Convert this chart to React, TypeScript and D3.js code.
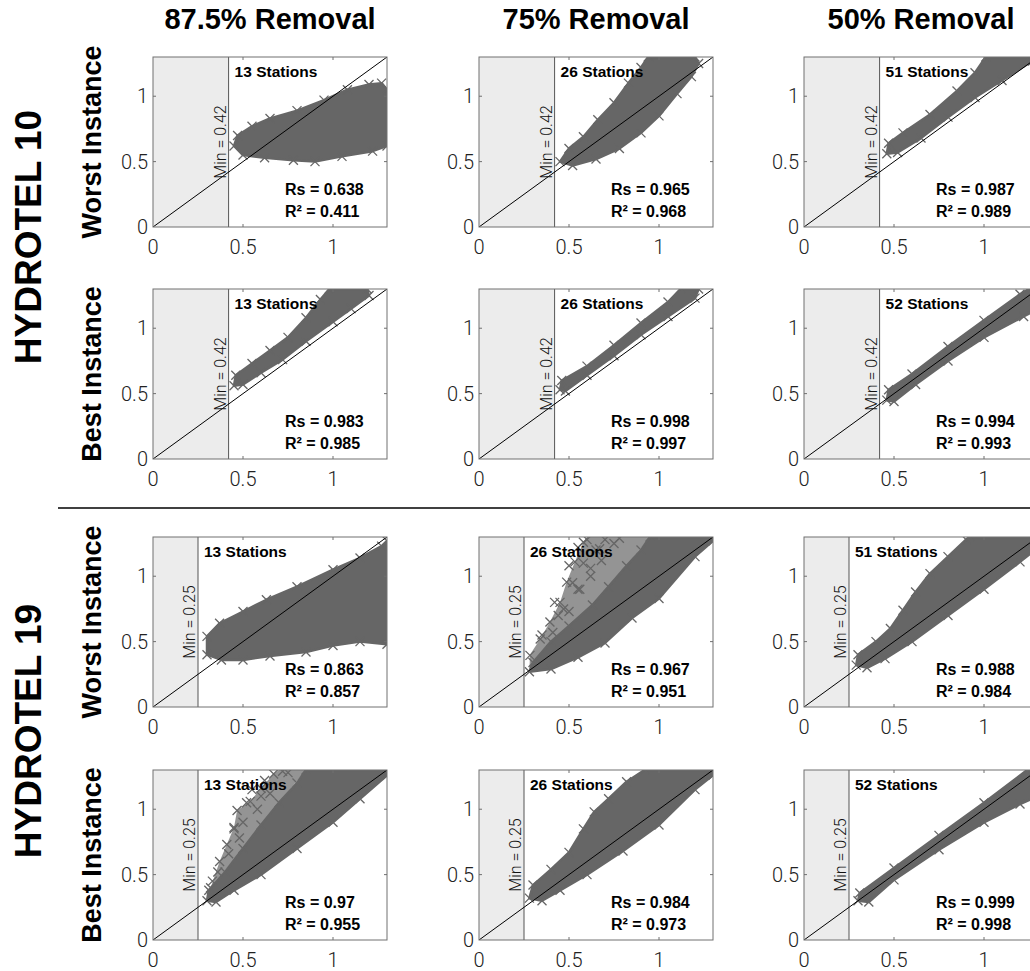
import React from 'react';
import * as d3 from 'd3';

const columns = ['87.5% Removal', '75% Removal', '50% Removal'];
const models = ['HYDROTEL 10', 'HYDROTEL 19'];
const instances = ['Worst Instance', 'Best Instance'];
const minThreshold = [0.42, 0.25];
const stations = [[13, 26, 51], [13, 26, 52], [13, 26, 51], [13, 26, 52]];
const rsValues = [['0.638', '0.965', '0.987'], ['0.983', '0.998', '0.994'], ['0.863', '0.967', '0.988'], ['0.97', '0.984', '0.999']];
const r2Values = [['0.411', '0.968', '0.989'], ['0.985', '0.997', '0.993'], ['0.857', '0.951', '0.984'], ['0.955', '0.973', '0.998']];
const xTicks = [0, 0.5, 1];
const yTicks = [0, 0.5, 1];

const clouds: number[][][][] = [
  [
    [[0.45, 0.62], [0.47, 0.7], [0.55, 0.77], [0.65, 0.83], [0.8, 0.89], [0.95, 0.97], [1.08, 1.05], [1.2, 1.09], [1.27, 1.1], [1.3, 1.05], [1.3, 0.62], [1.22, 0.58], [1.05, 0.54], [0.9, 0.5], [0.78, 0.51], [0.62, 0.53], [0.5, 0.55]],
    [[0.45, 0.5], [0.5, 0.6], [0.58, 0.69], [0.66, 0.82], [0.75, 0.95], [0.83, 1.1], [0.9, 1.22], [0.94, 1.3], [1.2, 1.3], [1.22, 1.25], [1.18, 1.15], [1.1, 1.02], [1.0, 0.85], [0.9, 0.72], [0.78, 0.6], [0.65, 0.52], [0.52, 0.47]],
    [[0.46, 0.56], [0.47, 0.64], [0.55, 0.72], [0.7, 0.86], [0.85, 1.04], [0.95, 1.18], [1.01, 1.3], [1.25, 1.3], [1.27, 1.27], [1.1, 1.12], [0.95, 0.99], [0.8, 0.84], [0.65, 0.68], [0.52, 0.57]],
  ],
  [
    [[0.45, 0.56], [0.46, 0.64], [0.55, 0.73], [0.65, 0.83], [0.75, 0.93], [0.85, 1.08], [0.93, 1.22], [0.98, 1.3], [1.19, 1.3], [1.2, 1.25], [1.1, 1.15], [1.0, 1.05], [0.85, 0.9], [0.72, 0.76], [0.6, 0.66], [0.5, 0.57]],
    [[0.45, 0.53], [0.46, 0.6], [0.6, 0.71], [0.75, 0.87], [0.9, 1.04], [1.05, 1.2], [1.12, 1.3], [1.22, 1.3], [1.2, 1.23], [1.05, 1.09], [0.9, 0.95], [0.75, 0.79], [0.6, 0.64], [0.48, 0.52]],
    [[0.46, 0.45], [0.47, 0.53], [0.6, 0.65], [0.8, 0.86], [1.0, 1.06], [1.2, 1.26], [1.25, 1.3], [1.3, 1.3], [1.3, 1.15], [1.22, 1.09], [1.0, 0.93], [0.8, 0.75], [0.62, 0.57], [0.5, 0.44]],
  ],
  [
    [[0.3, 0.4], [0.3, 0.54], [0.37, 0.64], [0.5, 0.73], [0.63, 0.82], [0.8, 0.92], [1.0, 1.05], [1.15, 1.14], [1.27, 1.23], [1.3, 1.27], [1.3, 0.48], [1.15, 0.5], [1.0, 0.47], [0.85, 0.42], [0.65, 0.39], [0.5, 0.36], [0.38, 0.36]],
    [[0.28, 0.27], [0.3, 0.34], [0.4, 0.5], [0.5, 0.62], [0.63, 0.78], [0.72, 0.92], [0.82, 1.08], [0.9, 1.2], [0.95, 1.3], [1.3, 1.3], [1.3, 1.27], [1.2, 1.15], [1.0, 0.83], [0.85, 0.68], [0.7, 0.49], [0.55, 0.38], [0.4, 0.29]],
    [[0.29, 0.32], [0.3, 0.4], [0.4, 0.5], [0.48, 0.6], [0.55, 0.74], [0.62, 0.88], [0.7, 1.02], [0.8, 1.15], [0.9, 1.28], [0.92, 1.3], [1.3, 1.3], [1.3, 1.22], [1.2, 1.11], [1.0, 0.9], [0.8, 0.7], [0.6, 0.5], [0.45, 0.37], [0.35, 0.3]],
  ],
  [
    [[0.3, 0.3], [0.31, 0.38], [0.4, 0.52], [0.5, 0.7], [0.6, 0.88], [0.7, 1.05], [0.8, 1.2], [0.85, 1.3], [1.3, 1.3], [1.3, 1.26], [1.15, 1.08], [1.0, 0.9], [0.8, 0.7], [0.6, 0.5], [0.45, 0.38], [0.35, 0.29]],
    [[0.28, 0.32], [0.3, 0.42], [0.4, 0.54], [0.5, 0.67], [0.58, 0.85], [0.64, 0.98], [0.72, 1.08], [0.82, 1.21], [0.92, 1.3], [1.3, 1.3], [1.3, 1.26], [1.2, 1.15], [1.0, 0.88], [0.8, 0.68], [0.6, 0.5], [0.45, 0.38], [0.35, 0.3]],
    [[0.3, 0.3], [0.31, 0.36], [0.5, 0.55], [0.75, 0.8], [1.0, 1.05], [1.24, 1.3], [1.3, 1.3], [1.3, 1.1], [1.2, 1.04], [1.0, 0.9], [0.75, 0.69], [0.5, 0.46], [0.36, 0.29]],
  ],
];

// thinner envelope of sparser points above the dense cloud (empty where none)
const sparse: number[][][][] = [
  [[], [], []],
  [[], [], []],
  [[], [[0.28, 0.27], [0.283, 0.4], [0.34, 0.52], [0.394, 0.65], [0.45, 0.8], [0.487, 0.955], [0.533, 1.11], [0.58, 1.26], [0.6, 1.3], [0.95, 1.3], [0.82, 1.08], [0.63, 0.78], [0.4, 0.5], [0.3, 0.34]], []],
  [[[0.3, 0.3], [0.32, 0.4], [0.37, 0.6], [0.41, 0.73], [0.45, 0.86], [0.467, 0.99], [0.54, 1.06], [0.6, 1.16], [0.67, 1.27], [0.7, 1.3], [0.85, 1.3], [0.7, 1.05], [0.5, 0.7], [0.31, 0.38]], [], []],
];

// scattered points lying outside the dense clouds
const outliers: number[][][][] = [
  [[], [], []],
  [[], [], []],
  [[], [[0.283, 0.395], [0.34, 0.52], [0.394, 0.65], [0.45, 0.8], [0.487, 0.955], [0.533, 1.11], [0.58, 1.26], [0.41, 0.57], [0.5, 0.73], [0.56, 0.9], [0.62, 1.06], [0.67, 1.21], [0.78, 1.29], [0.35, 0.55], [0.42, 0.8], [0.5, 1.08], [0.55, 1.22], [0.6, 1.28], [0.47, 0.75], [0.52, 0.95], [0.58, 1.1], [0.65, 1.2], [0.7, 1.28], [0.44, 0.7], [0.55, 0.9], [0.62, 1.0], [0.75, 1.25], [0.68, 1.12]], []],
  [[[0.32, 0.4], [0.37, 0.6], [0.41, 0.73], [0.45, 0.86], [0.467, 0.99], [0.54, 1.06], [0.6, 1.16], [0.67, 1.27], [0.72, 1.29], [0.33, 0.45], [0.45, 0.85], [0.52, 1.05], [0.55, 1.15], [0.62, 1.22], [0.42, 0.66], [0.5, 0.9], [0.58, 1.0], [0.65, 1.12], [0.36, 0.52], [0.48, 0.78], [0.75, 1.28], [0.6, 1.1]], [], []],
];

const colLeft = [153, 479, 804];
const rowTop = [57, 289, 537, 770];
const W = 234;
const H = 170;
const pointColor = '#666666';
const lightFont = 'Roboto, "Liberation Sans", sans-serif';
const boldFont = '"Liberation Sans", Arial, sans-serif';
const xMark = 'M-4.5,-4.5L4.5,4.5M-4.5,4.5L4.5,-4.5';

const Panel = ({ row, col }: { row: number; col: number }) => {
  const left = colLeft[col];
  const top = rowTop[row];
  const x = d3.scaleLinear().domain([0, 1.3]).range([0, W]);
  const y = d3.scaleLinear().domain([0, 1.3]).range([H, 0]);
  const minV = minThreshold[Math.floor(row / 2)];
  const line = d3.line<number[]>().x(d => x(d[0])).y(d => y(d[1])).curve(d3.curveLinearClosed);
  const poly = clouds[row][col];
  const env = sparse[row][col];
  const pts = poly.concat(outliers[row][col]);
  const clipId = `clip-${row}-${col}`;

  return (
    <g transform={`translate(${left},${top})`}>
      <defs>
        <clipPath id={clipId}>
          <rect x={0} y={0} width={W} height={H} />
        </clipPath>
      </defs>
      <rect x={0} y={0} width={W} height={H} fill="#fff" />
      <rect x={0} y={0} width={x(minV)} height={H} fill="#ececec" />
      <line x1={x(minV)} x2={x(minV)} y1={0} y2={H} stroke="#555" strokeWidth={1} />
      <g clipPath={`url(#${clipId})`}>
        {env.length > 0 && <path d={line(env) || ''} fill={pointColor} fillOpacity={0.7} stroke="none" />}
        <path d={line(poly) || ''} fill={pointColor} stroke={pointColor} strokeWidth={2.5} strokeLinejoin="round" />
        {pts.map((p, i) => (
          <path key={i} d={xMark} transform={`translate(${x(p[0])},${y(p[1])})`} stroke={pointColor} strokeWidth={1.3} fill="none" />
        ))}
        <line x1={x(0)} y1={y(0)} x2={x(1.3)} y2={y(1.3)} stroke="#000" strokeWidth={1} />
      </g>
      <rect x={0} y={0} width={W} height={H} fill="none" stroke="#707070" strokeWidth={1} />
      {xTicks.slice(1).map(t => (
        <g key={'xt' + t}>
          <line x1={x(t)} x2={x(t)} y1={H} y2={H - 3} stroke="#707070" />
          <line x1={x(t)} x2={x(t)} y1={0} y2={3} stroke="#707070" />
        </g>
      ))}
      {yTicks.slice(1).map(t => (
        <g key={'yt' + t}>
          <line x1={0} x2={3} y1={y(t)} y2={y(t)} stroke="#707070" />
          <line x1={W} x2={W - 3} y1={y(t)} y2={y(t)} stroke="#707070" />
        </g>
      ))}
      {xTicks.map(t => (
        <text key={'xl' + t} x={x(t)} y={H + 27} textAnchor="middle" fontFamily={lightFont} fontWeight={300} fontSize={20} fill="#222">
          {String(t)}
        </text>
      ))}
      {yTicks.map(t => (
        <text key={'yl' + t} x={-5} y={y(t) + 7} textAnchor="end" fontFamily={lightFont} fontWeight={300} fontSize={20} fill="#222">
          {String(t)}
        </text>
      ))}
      <text transform={`translate(${x(minV) - 3},${H / 2}) rotate(-90)`} textAnchor="middle" fontFamily={lightFont} fontWeight={300} fontSize={16} fill="#111">
        {`Min = ${minV}`}
      </text>
      <text x={x(minV) + 6} y={20} fontFamily={boldFont} fontWeight="bold" fontSize={15.5} fill="#000">
        {`${stations[row][col]} Stations`}
      </text>
      <text x={132} y={H - 32} fontFamily={boldFont} fontWeight="bold" fontSize={16} fill="#000">
        {`Rs = ${rsValues[row][col]}`}
      </text>
      <text x={132} y={H - 10} fontFamily={boldFont} fontWeight="bold" fontSize={16} fill="#000">
        {`R² = ${r2Values[row][col]}`}
      </text>
    </g>
  );
};

export default function App() {
  const rows = d3.range(4);
  return (
    <svg width={1030} height={971} style={{ position: 'absolute', left: 0, top: 0, background: '#fff' }}>
      <rect width={1030} height={971} fill="#fff" />
      {columns.map((c, i) => (
        <text key={c} x={colLeft[i] + W / 2} y={29} textAnchor="middle" fontFamily={boldFont} fontWeight="bold" fontSize={29} fill="#000">
          {c}
        </text>
      ))}
      {models.map((m, i) => (
        <text key={m} transform={`translate(41,${[237, 731][i]}) rotate(-90)`} textAnchor="middle" fontFamily={boldFont} fontWeight="bold" fontSize={37} fill="#000">
          {m}
        </text>
      ))}
      {rows.map(r => (
        <text key={'inst' + r} transform={`translate(101,${rowTop[r] + H / 2}) rotate(-90)`} textAnchor="middle" fontFamily={boldFont} fontWeight="bold" fontSize={27} fill="#000">
          {instances[r % 2]}
        </text>
      ))}
      <line x1={58} x2={1030} y1={508} y2={508} stroke="#000" strokeWidth={1.5} />
      {rows.map(r => columns.map((c, ci) => <Panel key={`${r}-${ci}`} row={r} col={ci} />))}
    </svg>
  );
}
